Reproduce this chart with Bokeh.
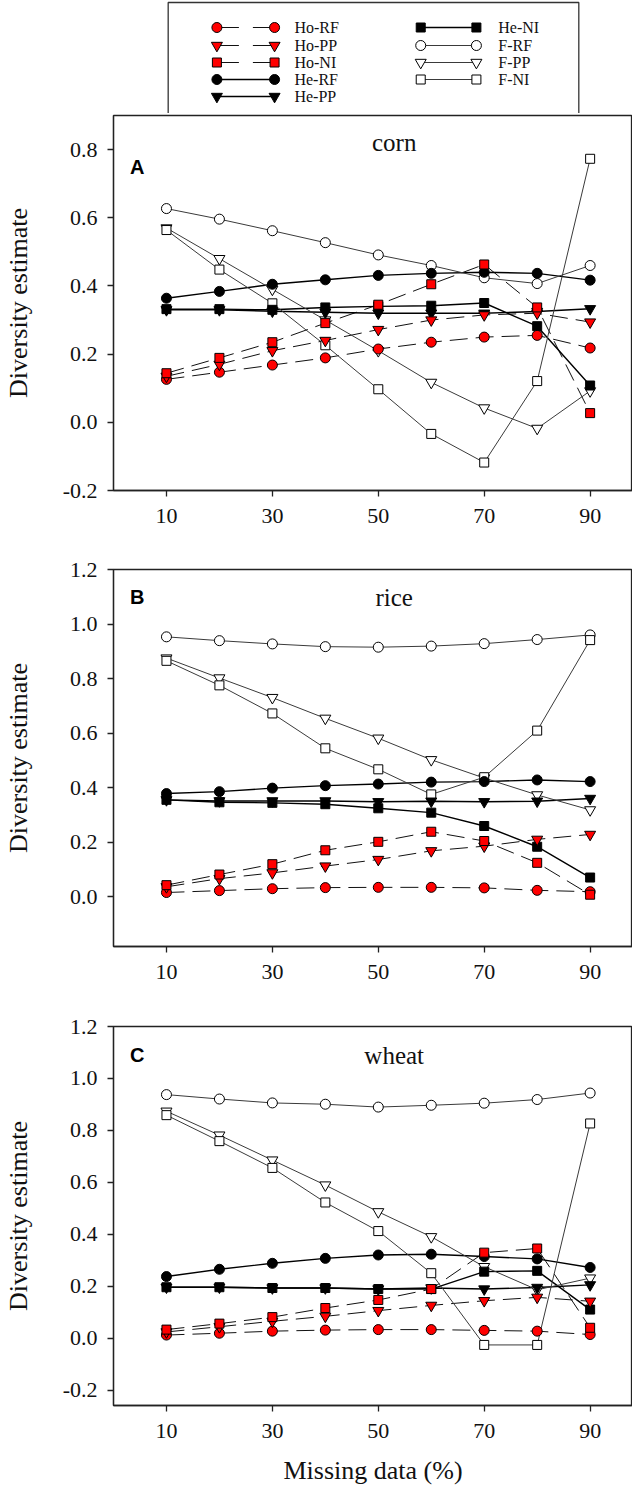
from bokeh.plotting import figure
from bokeh.layouts import column
from bokeh.models import Range1d, FixedTicker, Label, PrintfTickFormatter
from bokeh.embed import file_html
from bokeh.resources import INLINE

# ---------------- data ----------------
missing_pct = [10, 20, 30, 40, 50, 60, 70, 80, 90]
series_names = ["Ho-RF", "Ho-PP", "Ho-NI", "He-RF", "He-PP", "He-NI", "F-RF", "F-PP", "F-NI"]
x_ticks = [10, 30, 50, 70, 90]

# corn
corn_ho_rf = [0.126, 0.147, 0.168, 0.189, 0.215, 0.235, 0.250, 0.255, 0.218]
corn_ho_pp = [0.135, 0.170, 0.210, 0.240, 0.272, 0.300, 0.315, 0.320, 0.294]
corn_ho_ni = [0.144, 0.189, 0.235, 0.291, 0.345, 0.405, 0.463, 0.337, 0.027]
corn_he_rf = [0.364, 0.384, 0.405, 0.418, 0.431, 0.437, 0.440, 0.437, 0.417]
corn_he_pp = [0.330, 0.330, 0.326, 0.323, 0.320, 0.320, 0.320, 0.325, 0.333]
corn_he_ni = [0.332, 0.332, 0.330, 0.337, 0.340, 0.342, 0.350, 0.282, 0.108]
corn_f_rf = [0.627, 0.596, 0.562, 0.527, 0.491, 0.460, 0.424, 0.407, 0.460]
corn_f_pp = [0.570, 0.480, 0.390, 0.300, 0.210, 0.117, 0.042, -0.018, 0.092]
corn_f_ni = [0.564, 0.448, 0.349, 0.226, 0.097, -0.034, -0.118, 0.121, 0.773]

# rice
rice_ho_rf = [0.015, 0.022, 0.029, 0.033, 0.034, 0.034, 0.032, 0.023, 0.018]
rice_ho_pp = [0.036, 0.066, 0.087, 0.112, 0.136, 0.168, 0.185, 0.210, 0.228]
rice_ho_ni = [0.042, 0.081, 0.119, 0.170, 0.201, 0.238, 0.204, 0.124, 0.007]
rice_he_rf = [0.378, 0.385, 0.398, 0.407, 0.413, 0.420, 0.422, 0.428, 0.422]
rice_he_pp = [0.355, 0.351, 0.351, 0.351, 0.348, 0.350, 0.348, 0.350, 0.360]
rice_he_ni = [0.355, 0.346, 0.344, 0.339, 0.324, 0.308, 0.259, 0.183, 0.070]
rice_f_rf = [0.953, 0.939, 0.927, 0.917, 0.915, 0.919, 0.928, 0.943, 0.960]
rice_f_pp = [0.875, 0.802, 0.730, 0.654, 0.581, 0.502, 0.435, 0.373, 0.318]
rice_f_ni = [0.865, 0.775, 0.672, 0.544, 0.467, 0.375, 0.438, 0.609, 0.941]

# wheat
wheat_ho_rf = [0.013, 0.020, 0.028, 0.032, 0.034, 0.034, 0.031, 0.028, 0.015]
wheat_ho_pp = [0.025, 0.045, 0.066, 0.085, 0.107, 0.127, 0.145, 0.158, 0.143]
wheat_ho_ni = [0.034, 0.057, 0.082, 0.117, 0.148, 0.190, 0.330, 0.346, 0.041]
wheat_he_rf = [0.238, 0.266, 0.289, 0.308, 0.321, 0.324, 0.315, 0.306, 0.273]
wheat_he_pp = [0.197, 0.197, 0.194, 0.194, 0.190, 0.194, 0.190, 0.196, 0.206]
wheat_he_ni = [0.197, 0.197, 0.194, 0.194, 0.190, 0.190, 0.257, 0.260, 0.111]
wheat_f_rf = [0.938, 0.921, 0.906, 0.901, 0.890, 0.897, 0.905, 0.919, 0.944]
wheat_f_pp = [0.874, 0.782, 0.686, 0.590, 0.487, 0.391, 0.276, 0.187, 0.232]
wheat_f_ni = [0.859, 0.759, 0.656, 0.523, 0.413, 0.251, -0.025, -0.025, 0.827]

corn = dict(zip(series_names, [corn_ho_rf, corn_ho_pp, corn_ho_ni, corn_he_rf, corn_he_pp,
                               corn_he_ni, corn_f_rf, corn_f_pp, corn_f_ni]))
rice = dict(zip(series_names, [rice_ho_rf, rice_ho_pp, rice_ho_ni, rice_he_rf, rice_he_pp,
                               rice_he_ni, rice_f_rf, rice_f_pp, rice_f_ni]))
wheat = dict(zip(series_names, [wheat_ho_rf, wheat_ho_pp, wheat_ho_ni, wheat_he_rf, wheat_he_pp,
                                wheat_he_ni, wheat_f_rf, wheat_f_pp, wheat_f_ni]))

# ---------------- styles ----------------
SERIF = "Liberation Serif"
SANS = "Liberation Sans"
RED = "#ff0000"


def style_of(name):
    group, method = name.split("-")
    marker = {"RF": "circle", "PP": "inverted_triangle", "NI": "square"}[method]
    size = {"circle": 10, "inverted_triangle": 11, "square": 9}[marker]
    if group == "Ho":
        return dict(marker=marker, size=size, fill=RED, dash="18 8", lc="#111111", lw=1.0)
    if group == "He":
        return dict(marker=marker, size=size, fill="#000000", dash="solid", lc="#000000", lw=1.4)
    return dict(marker=marker, size=size, fill="#ffffff", dash="solid", lc="#3a3a3a", lw=1.0)


W = 632
FRAME_LEFT = 110
FRAME_W = W - FRAME_LEFT


def make_panel(data, letter, crop, y0, y1, yticks, height, btop, bbot,
               letter_y, title_y, ylab_standoff, show_xlabel):
    p = figure(width=W, height=height, x_range=Range1d(0, 98), y_range=Range1d(y0, y1),
               output_backend="svg", toolbar_location=None,
               min_border_left=FRAME_LEFT, min_border_right=0,
               min_border_top=btop, min_border_bottom=bbot)
    p.grid.visible = False
    p.outline_line_color = "#222222"
    p.outline_line_width = 1.3
    p.background_fill_color = "white"
    p.border_fill_color = "white"

    for ax in (p.xaxis[0], p.yaxis[0]):
        ax.axis_line_color = "#222222"
        ax.axis_line_width = 1.3
        ax.major_tick_out = 6
        ax.major_tick_in = 0
        ax.major_tick_line_width = 1.3
        ax.major_tick_line_color = "#222222"
        ax.minor_tick_out = 0
        ax.minor_tick_in = 0
        ax.major_label_text_font = SERIF
        ax.major_label_text_font_size = "22px"
        ax.major_label_text_color = "#111111"
        ax.major_label_standoff = 10
        ax.axis_label_text_font = SERIF
        ax.axis_label_text_font_size = "26px"
        ax.axis_label_text_font_style = "normal"
        ax.axis_label_text_color = "#111111"

    p.xaxis.ticker = FixedTicker(ticks=x_ticks)
    p.xaxis.major_label_standoff = 12
    p.yaxis.ticker = FixedTicker(ticks=yticks)
    p.yaxis.formatter = PrintfTickFormatter(format="%.1f")
    p.yaxis.axis_label = "Diversity estimate"
    p.yaxis.axis_label_standoff = ylab_standoff
    if show_xlabel:
        p.xaxis.axis_label = "Missing data (%)"
        p.xaxis.axis_label_standoff = 15

    # lines first
    for name in series_names:
        s = style_of(name)
        p.line(missing_pct, data[name], line_color=s["lc"], line_width=s["lw"], line_dash=s["dash"])
    # markers (F, He, then Ho on top)
    for name in series_names[6:] + series_names[3:6] + series_names[:3]:
        s = style_of(name)
        p.scatter(missing_pct, data[name], marker=s["marker"], size=s["size"],
                  fill_color=s["fill"], line_color="#000000", line_width=1.0)

    p.add_layout(Label(x=4.5, y=letter_y, text=letter, text_font=SANS, text_font_style="bold",
                       text_font_size="20px", text_align="center", text_baseline="middle",
                       text_color="#000000"))
    p.add_layout(Label(x=53, y=title_y, text=crop, text_font=SERIF, text_font_size="25px",
                       text_align="center", text_baseline="middle", text_color="#111111"))
    return p


# ---------------- legend figure (frame aligned with the panels' frames) ----------------
LEG_H = 113
leg = figure(width=W, height=LEG_H, x_range=Range1d(0, FRAME_W), y_range=Range1d(LEG_H, 0),
             output_backend="svg", toolbar_location=None,
             x_axis_location=None, y_axis_location=None,
             min_border_left=FRAME_LEFT, min_border_right=0, min_border_top=0, min_border_bottom=0)
leg.grid.visible = False
leg.outline_line_color = None
leg.quad(left=[55], right=[468], top=[2], bottom=[LEG_H + 5], fill_color="white",
         line_color="#333333", line_width=1.3)

row_y = [27, 45, 62, 79, 96]
col_x = [(104, 162, 182), (309, 365, 387)]
for i, name in enumerate(series_names):
    col = 0 if i < 5 else 1
    r = i if i < 5 else i - 5
    x0, x1, xt = col_x[col]
    y = row_y[r]
    s = style_of(name)
    dash = "22 14" if name.startswith("Ho") else "solid"
    leg.line([x0, x1], [y, y], line_color=s["lc"], line_width=s["lw"], line_dash=dash)
    leg.scatter([x0, x1], [y, y], marker=s["marker"], size=s["size"], fill_color=s["fill"],
                line_color="#000000", line_width=1.0)
    leg.add_layout(Label(x=xt, y=y, text=name, text_font=SERIF, text_font_size="16px",
                         text_baseline="middle", text_align="left", text_color="#111111"))

# ---------------- panels ----------------
pA = make_panel(corn, "A", "corn", -0.2, 0.9, [-0.2, 0.0, 0.2, 0.4, 0.6, 0.8],
                height=439, btop=2, bbot=62, letter_y=0.75, title_y=0.82,
                ylab_standoff=27, show_xlabel=False)
pB = make_panel(rice, "B", "rice", -0.183, 1.2, [0.0, 0.2, 0.4, 0.6, 0.8, 1.0, 1.2],
                height=457, btop=17, bbot=63, letter_y=1.10, title_y=1.097,
                ylab_standoff=34, show_xlabel=False)
pC = make_panel(wheat, "C", "wheat", -0.258, 1.2, [-0.2, 0.0, 0.2, 0.4, 0.6, 0.8, 1.0, 1.2],
                height=483, btop=17, bbot=87, letter_y=1.09, title_y=1.09,
                ylab_standoff=27, show_xlabel=True)

layout = column(leg, pA, pB, pC, spacing=0)
open("out.html", "w").write(file_html(layout, INLINE))
